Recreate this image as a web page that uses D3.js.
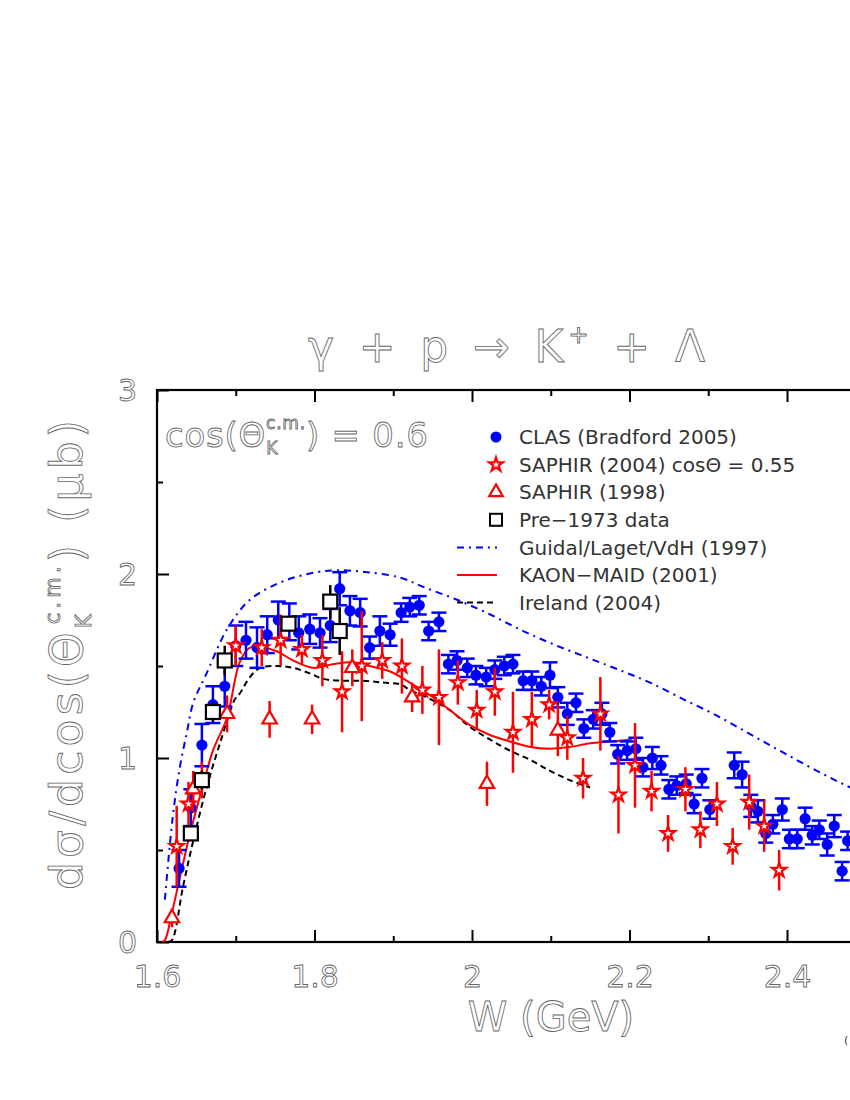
<!DOCTYPE html>
<html><head><meta charset="utf-8">
<script src="https://cdn.jsdelivr.net/npm/d3@7"></script>
<style>
body{margin:0;background:#fff;}
.hollow{fill:#fff;stroke:#666;stroke-width:0.85px;font-family:"DejaVu Sans",sans-serif;}
.leg{fill:#333;font-family:"DejaVu Sans",sans-serif;font-size:20px;}
</style></head>
<body><svg id="c" width="850" height="1100"></svg>
<script>
// ---- data ----
const clasW = [1.628,1.643,1.657,1.671,1.686,1.700,1.713,1.727,1.740,1.754,1.768,1.780,1.794,1.807,1.820,1.832,1.845,1.858,1.870,1.883,1.896,1.910,1.921,1.933,1.945,1.958,1.970,1.981,1.994,2.005,2.018,2.029,2.041,2.052,2.065,2.076,2.088,2.099,2.109,2.121,2.132,2.142,2.154,2.165,2.175,2.185,2.197,2.208,2.217,2.229,2.240,2.250,2.260,2.272,2.282,2.292,2.302,2.333,2.343,2.354,2.363,2.373,2.382,2.394,2.403,2.413,2.423,2.432,2.441,2.451,2.460,2.470,2.477];
const clasV = [0.40,0.73,1.07,1.29,1.39,1.61,1.64,1.60,1.67,1.75,1.74,1.68,1.70,1.68,1.72,1.92,1.80,1.79,1.60,1.69,1.67,1.79,1.82,1.83,1.69,1.74,1.51,1.53,1.49,1.45,1.44,1.48,1.50,1.51,1.42,1.42,1.39,1.45,1.33,1.24,1.30,1.16,1.21,1.24,1.14,1.02,1.04,1.05,0.95,1.00,0.96,0.83,0.85,0.86,0.75,0.89,0.72,0.96,0.91,0.74,0.71,0.59,0.64,0.72,0.56,0.56,0.67,0.58,0.61,0.53,0.63,0.385,0.55];
const clasE = [0.10,0.10,0.115,0.10,0.11,0.11,0.10,0.11,0.10,0.10,0.10,0.09,0.08,0.08,0.09,0.09,0.08,0.075,0.06,0.08,0.06,0.05,0.05,0.05,0.05,0.05,0.05,0.05,0.05,0.05,0.05,0.05,0.05,0.05,0.05,0.05,0.05,0.07,0.055,0.06,0.05,0.05,0.05,0.06,0.05,0.05,0.05,0.06,0.05,0.06,0.05,0.05,0.05,0.05,0.05,0.05,0.05,0.07,0.07,0.06,0.06,0.05,0.05,0.06,0.05,0.05,0.06,0.05,0.05,0.06,0.06,0.05,0.05];

const sap04W = [1.625,1.640,1.657,1.700,1.733,1.757,1.784,1.810,1.835,1.860,1.886,1.911,1.937,1.958,1.982,2.006,2.029,2.052,2.076,2.098,2.121,2.141,2.163,2.186,2.207,2.228,2.249,2.271,2.290,2.311,2.331,2.352,2.371,2.390];
const sap04V = [0.52,0.75,0.88,1.61,1.60,1.64,1.59,1.53,1.36,1.50,1.53,1.50,1.37,1.33,1.41,1.26,1.36,1.14,1.21,1.29,1.11,0.89,1.24,0.80,0.96,0.82,0.59,0.83,0.61,0.75,0.52,0.76,0.63,0.39];
const sap04E = [0.22,0.12,0.10,0.11,0.10,0.14,0.08,0.14,0.22,0.30,0.10,0.15,0.13,0.26,0.12,0.11,0.13,0.22,0.15,0.08,0.12,0.11,0.20,0.21,0.23,0.11,0.10,0.12,0.10,0.12,0.10,0.15,0.14,0.11];

const sap98W = [1.619,1.646,1.689,1.743,1.797,1.848,1.924,2.019,2.109];
const sap98V = [0.13,0.83,1.24,1.21,1.21,1.49,1.33,0.86,1.15];
const sap98E = [0.05,0.10,0.10,0.10,0.08,0.10,0.08,0.12,0.14];

const oldW = [1.643,1.657,1.671,1.686,1.767,1.820,1.832];
const oldV = [0.59,0.88,1.25,1.53,1.73,1.85,1.69];
const oldE = [0.04,0.05,0.05,0.08,0.04,0.09,0.13];

const guidalW = [1.610,1.620,1.629,1.638,1.646,1.663,1.689,1.718,1.760,1.803,1.829,1.867,1.909,1.938,1.981,2.023,2.065,2.108,2.150,2.192,2.226,2.268,2.311,2.353,2.395,2.438,2.480,2.52];
const guidalV = [0.23,0.68,0.95,1.14,1.30,1.46,1.70,1.86,1.96,2.01,2.02,2.01,1.98,1.93,1.86,1.78,1.69,1.61,1.54,1.47,1.41,1.32,1.23,1.13,1.03,0.93,0.84,0.76];

const maidW = [1.606,1.610,1.619,1.629,1.642,1.657,1.671,1.689,1.705,1.718,1.734,1.752,1.773,1.798,1.823,1.849,1.870,1.896,1.921,1.947,1.972,1.997,2.023,2.048,2.074,2.099,2.124,2.150,2.175,2.203];
const maidV = [0.0,0.01,0.16,0.35,0.59,0.83,1.04,1.22,1.52,1.60,1.60,1.58,1.53,1.49,1.51,1.52,1.50,1.47,1.41,1.34,1.26,1.18,1.125,1.09,1.06,1.05,1.06,1.08,1.09,1.10];

const irW = [1.614,1.619,1.633,1.646,1.663,1.680,1.699,1.705,1.718,1.731,1.752,1.773,1.794,1.811,1.836,1.862,1.887,1.909,1.921,1.947,1.972,1.997,2.023,2.048,2.074,2.099,2.124,2.150];
const irV = [0.0,0.01,0.30,0.55,0.84,1.08,1.32,1.35,1.44,1.49,1.50,1.49,1.46,1.43,1.42,1.42,1.41,1.40,1.37,1.32,1.26,1.17,1.10,1.04,0.99,0.93,0.88,0.84];

const xTicks = [1.6,1.8,2.0,2.2,2.4];
const xMinor = [1.7,1.9,2.1,2.3,2.5];
const yTicks = [0,1,2,3];
const yMinor = [0.5,1.5,2.5];
const legendLabels = ["CLAS (Bradford 2005)","SAPHIR (2004) cosΘ = 0.55","SAPHIR (1998)","Pre\u22121973 data","Guidal/Laget/VdH (1997)","KAON\u2212MAID (2001)","Ireland (2004)"];

// ---- chart ----
const svg = d3.select("#c");
const L=157, T=390, B=942, R=944.5;
const x = d3.scaleLinear().domain([1.6,2.6]).range([L,R]);
const y = d3.scaleLinear().domain([0,3]).range([B,T]);

svg.append("defs").append("clipPath").attr("id","clip")
  .append("rect").attr("x",L).attr("y",T).attr("width",R-L).attr("height",B-T);

function axisStyle(g){ g.select(".domain").remove(); g.selectAll("line").attr("stroke","#000").attr("stroke-width",2); }
svg.append("g").attr("transform",`translate(0,${B})`)
  .call(d3.axisBottom(x).tickValues(xTicks).tickSize(-12).tickPadding(24).tickFormat(d=>String(+d.toFixed(1))))
  .call(axisStyle)
  .call(g=>g.selectAll("text").attr("class","hollow").attr("font-size",30).attr("font-family",null).attr("fill",null));
svg.append("g").attr("transform",`translate(0,${B})`)
  .call(d3.axisBottom(x).tickValues(xMinor).tickSize(-6).tickFormat("")).call(axisStyle);
svg.append("g").attr("transform",`translate(0,${T})`)
  .call(d3.axisTop(x).tickValues(xTicks).tickSize(-12).tickFormat("")).call(axisStyle);
svg.append("g").attr("transform",`translate(0,${T})`)
  .call(d3.axisTop(x).tickValues(xMinor).tickSize(-6).tickFormat("")).call(axisStyle);
svg.append("g").attr("transform",`translate(${L},0)`)
  .call(d3.axisLeft(y).tickValues(yTicks).tickSize(-12).tickPadding(20).tickFormat(d3.format("d")))
  .call(axisStyle)
  .call(g=>g.selectAll("text").attr("class","hollow").attr("font-size",30).attr("font-family",null).attr("fill",null).attr("dy","0.35em"));
svg.append("g").attr("transform",`translate(${L},0)`)
  .call(d3.axisLeft(y).tickValues(yMinor).tickSize(-6).tickFormat("")).call(axisStyle);

svg.append("rect").attr("x",L).attr("y",T).attr("width",R-L).attr("height",B-T)
  .attr("fill","none").attr("stroke","#000").attr("stroke-width",2.2);

const plot = svg.append("g").attr("clip-path","url(#clip)");
const line = d3.line().x(d=>x(d[0])).y(d=>y(d[1])).curve(d3.curveCatmullRom);

plot.append("path").datum(d3.zip(guidalW,guidalV)).attr("d",line)
  .attr("fill","none").attr("stroke","#0000ff").attr("stroke-width",2).attr("stroke-dasharray","7,5,2,5");
plot.append("path").datum(d3.zip(irW,irV)).attr("d",line)
  .attr("fill","none").attr("stroke","#000").attr("stroke-width",2).attr("stroke-dasharray","6,4");
plot.append("path").datum(d3.zip(maidW,maidV)).attr("d",line)
  .attr("fill","none").attr("stroke","#ff0000").attr("stroke-width",2);

// CLAS
const clas = d3.zip(clasW,clasV,clasE);
const cg = plot.append("g").attr("stroke","#0000ff").attr("stroke-width",2.5);
cg.selectAll(".v").data(clas).join("line").attr("x1",d=>x(d[0])).attr("x2",d=>x(d[0])).attr("y1",d=>y(d[1]-d[2])).attr("y2",d=>y(d[1]+d[2]));
cg.selectAll(".t").data(clas).join("line").attr("x1",d=>x(d[0])-7.5).attr("x2",d=>x(d[0])+7.5).attr("y1",d=>y(d[1]+d[2])).attr("y2",d=>y(d[1]+d[2]));
cg.selectAll(".b").data(clas).join("line").attr("x1",d=>x(d[0])-7.5).attr("x2",d=>x(d[0])+7.5).attr("y1",d=>y(d[1]-d[2])).attr("y2",d=>y(d[1]-d[2]));
plot.append("g").selectAll("circle").data(clas).join("circle")
  .attr("cx",d=>x(d[0])).attr("cy",d=>y(d[1])).attr("r",5.6).attr("fill","#0000ff");

// SAPHIR 2004 stars
const s04 = d3.zip(sap04W,sap04V,sap04E);
plot.append("g").selectAll("line").data(s04).join("line")
  .attr("x1",d=>x(d[0])).attr("x2",d=>x(d[0])).attr("y1",d=>y(d[1]-d[2])).attr("y2",d=>y(d[1]+d[2]))
  .attr("stroke","#ff0000").attr("stroke-width",2.5);
const star = d3.symbol().type(d3.symbolStar).size(62);
plot.append("g").selectAll("path").data(s04).join("path").attr("d",star)
  .attr("transform",d=>`translate(${x(d[0])},${y(d[1])})`)
  .attr("fill","#fff").attr("stroke","#ff0000").attr("stroke-width",2.2);

// SAPHIR 1998 triangles
const s98 = d3.zip(sap98W,sap98V,sap98E);
plot.append("g").selectAll("line").data(s98).join("line")
  .attr("x1",d=>x(d[0])).attr("x2",d=>x(d[0])).attr("y1",d=>y(d[1]-d[2])).attr("y2",d=>y(d[1]+d[2]))
  .attr("stroke","#ff0000").attr("stroke-width",2.5);
const tri = d3.symbol().type(d3.symbolTriangle).size(90);
plot.append("g").selectAll("path").data(s98).join("path").attr("d",tri)
  .attr("transform",d=>`translate(${x(d[0])},${y(d[1])})`)
  .attr("fill","#fff").attr("stroke","#ff0000").attr("stroke-width",2.2);

// pre-1973 squares
const old = d3.zip(oldW,oldV,oldE);
plot.append("g").selectAll("line").data(old).join("line")
  .attr("x1",d=>x(d[0])).attr("x2",d=>x(d[0])).attr("y1",d=>y(d[1]-d[2])).attr("y2",d=>y(d[1]+d[2]))
  .attr("stroke","#000").attr("stroke-width",2.5);
plot.append("g").selectAll("rect").data(old).join("rect")
  .attr("x",d=>x(d[0])-7).attr("y",d=>y(d[1])-7).attr("width",14).attr("height",14)
  .attr("fill","#fff").attr("stroke","#000").attr("stroke-width",2.2);

// legend
const lx=496, tx=519, ly0=437, dy=27.6;
const lg = svg.append("g");
lg.append("circle").attr("cx",lx).attr("cy",ly0).attr("r",5.5).attr("fill","#0000ff");
lg.append("path").attr("d",d3.symbol().type(d3.symbolStar).size(60)).attr("transform",`translate(${lx},${ly0+dy})`)
  .attr("fill","#fff").attr("stroke","#ff0000").attr("stroke-width",2.2);
lg.append("path").attr("d",d3.symbol().type(d3.symbolTriangle).size(80)).attr("transform",`translate(${lx},${ly0+2*dy})`)
  .attr("fill","#fff").attr("stroke","#ff0000").attr("stroke-width",2.2);
lg.append("rect").attr("x",lx-6).attr("y",ly0+3*dy-6).attr("width",12).attr("height",12)
  .attr("fill","#fff").attr("stroke","#000").attr("stroke-width",2);
lg.append("line").attr("x1",457).attr("x2",497).attr("y1",ly0+4*dy).attr("y2",ly0+4*dy)
  .attr("stroke","#0000ff").attr("stroke-width",2).attr("stroke-dasharray","7,5,2,5");
lg.append("line").attr("x1",457).attr("x2",497).attr("y1",ly0+5*dy).attr("y2",ly0+5*dy)
  .attr("stroke","#ff0000").attr("stroke-width",2);
lg.append("line").attr("x1",457).attr("x2",497).attr("y1",ly0+6*dy).attr("y2",ly0+6*dy)
  .attr("stroke","#000").attr("stroke-width",2).attr("stroke-dasharray","6,4");
lg.selectAll("text").data(legendLabels).join("text").attr("class","leg")
  .attr("x",tx).attr("y",(d,i)=>ly0+i*dy).attr("dy","0.36em").text(d=>d);

// title
const title = svg.append("text").attr("class","hollow").attr("x",308).attr("y",362).attr("font-size",44)
  .attr("textLength",397).attr("lengthAdjust","spacing");
title.append("tspan").text("γ + p → K");
title.append("tspan").attr("font-size",24).attr("dy",-19).text("+");
title.append("tspan").attr("dy",19).text(" + Λ");

// cos label
const cl = svg.append("text").attr("class","hollow").attr("x",165).attr("y",447).attr("font-size",34)
  .attr("textLength",263).attr("lengthAdjust","spacing");
cl.append("tspan").text("cos(Θ");
cl.append("tspan").attr("font-size",17).attr("dy",7).text("K");
cl.append("tspan").attr("font-size",17).attr("dx",-12).attr("dy",-25).text("c.m.");
cl.append("tspan").attr("dy",18).text(") = 0.6");

// y label
const yl = svg.append("text").attr("class","hollow").attr("transform","translate(82,655) rotate(-90)")
  .attr("text-anchor","middle").attr("font-size",44).attr("textLength",470).attr("lengthAdjust","spacing");
yl.append("tspan").text("dσ/dcos(Θ");
yl.append("tspan").attr("font-size",21).attr("dy",9).text("K");
yl.append("tspan").attr("font-size",21).attr("dx",-14).attr("dy",-31).text("c.m.");
yl.append("tspan").attr("dy",22).text(") (μb)");

// x label
svg.append("text").attr("class","hollow").attr("x",551).attr("y",1031).attr("text-anchor","middle")
  .attr("font-size",40).text("W (GeV)");

svg.append("text").attr("x",844).attr("y",1044).attr("font-size",11).attr("fill","#333")
  .attr("font-family","DejaVu Sans").text("(");
</script></body></html>
